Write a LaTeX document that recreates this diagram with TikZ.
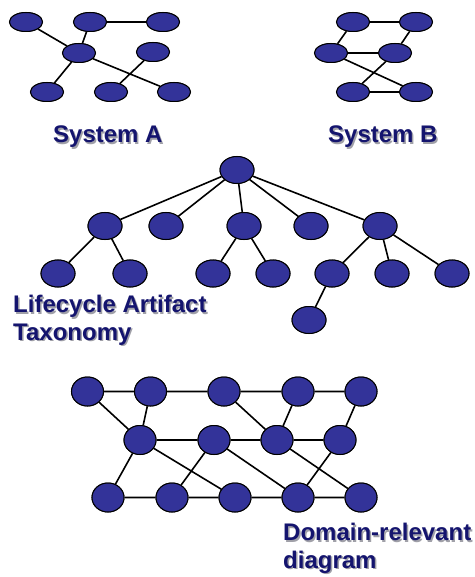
\documentclass[tikz,border=0pt]{standalone}
\usepackage{fontspec}
\setmainfont{Liberation Sans}
\usetikzlibrary{shapes.geometric}
\definecolor{nodeblue}{HTML}{333399}
\definecolor{labnavy}{HTML}{14146E}
\definecolor{shadowgray}{HTML}{A0A0A8}
\tikzset{
  sysnode/.style={ellipse,draw=black,line width=1pt,fill=nodeblue,minimum width=33pt,minimum height=19pt,inner sep=0pt},
  taxnode/.style={ellipse,draw=black,line width=1pt,fill=nodeblue,minimum width=34pt,minimum height=27pt,inner sep=0pt},
  domnode/.style={ellipse,draw=black,line width=1pt,fill=nodeblue,minimum width=32pt,minimum height=29pt,inner sep=0pt},
  edge/.style={draw=black,line width=1.6pt},
  lab/.style={font=\fontsize{24}{27.5}\selectfont\bfseries,text=labnavy,inner sep=0pt,anchor=base west,align=left},
  labshadow/.style={lab,text=shadowgray}
}
\begin{document}
\begin{tikzpicture}[x=1pt,y=-1pt]
\useasboundingbox (0,0) rectangle (474,577);
\fill[white] (0,0) rectangle (474,577);
% System A
\node[sysnode] (a1) at (26,22) {};
\node[sysnode] (a2) at (90,22) {};
\node[sysnode] (a3) at (163,22) {};
\node[sysnode] (a4) at (79,53) {};
\node[sysnode] (a5) at (153,52) {};
\node[sysnode] (a6) at (47,92) {};
\node[sysnode] (a7) at (111,92) {};
\node[sysnode] (a8) at (174,92) {};
% System B
\node[sysnode] (b1) at (353,22) {};
\node[sysnode] (b2) at (416,22) {};
\node[sysnode] (b3) at (331,53) {};
\node[sysnode] (b4) at (395,53) {};
\node[sysnode] (b5) at (353,92) {};
\node[sysnode] (b6) at (416,92) {};
% Taxonomy
\node[taxnode] (t0) at (237,170) {};
\node[taxnode] (t1) at (105,226) {};
\node[taxnode] (t2) at (166,226) {};
\node[taxnode] (t3) at (244,226) {};
\node[taxnode] (t4) at (311,226) {};
\node[taxnode] (t5) at (380,226) {};
\node[taxnode] (t6) at (58,273.5) {};
\node[taxnode] (t7) at (130,273.5) {};
\node[taxnode] (t8) at (213,273.5) {};
\node[taxnode] (t9) at (273,273.5) {};
\node[taxnode] (t10) at (332,273.5) {};
\node[taxnode] (t11) at (392,273.5) {};
\node[taxnode] (t12) at (452,273.5) {};
\node[taxnode] (t13) at (309,320) {};
% Domain diagram
\node[domnode] (d1) at (87.5,391.5) {};
\node[domnode] (d2) at (150.5,391.5) {};
\node[domnode] (d3) at (224,391.5) {};
\node[domnode] (d4) at (298,391.5) {};
\node[domnode] (d5) at (361,391.5) {};
\node[domnode] (d6) at (140,440) {};
\node[domnode] (d7) at (214,440) {};
\node[domnode] (d8) at (277,440) {};
\node[domnode] (d9) at (340,440) {};
\node[domnode] (d10) at (108,497.5) {};
\node[domnode] (d11) at (172,497.5) {};
\node[domnode] (d12) at (235,497.5) {};
\node[domnode] (d13) at (298,497.5) {};
\node[domnode] (d14) at (361,497.5) {};
% edges
\draw[edge] (a1)--(a4) (a2)--(a4) (a2)--(a3) (a4)--(a6) (a4)--(a8) (a5)--(a7);
\draw[edge] (b1)--(b2) (b1)--(b3) (b2)--(b4) (b3)--(b4) (b3)--(b6) (b4)--(b5) (b5)--(b6);
\draw[edge] (t0)--(t1) (t0)--(t2) (t0)--(t3) (t0)--(t4) (t0)--(t5)
  (t1)--(t6) (t1)--(t7) (t3)--(t8) (t3)--(t9) (t5)--(t10) (t5)--(t11) (t5)--(t12) (t10)--(t13);
\draw[edge] (d1)--(d2) (d2)--(d3) (d3)--(d4) (d4)--(d5)
  (d1)--(d6) (d2)--(d6) (d3)--(d8) (d4)--(d8) (d5)--(d9)
  (d6)--(d7) (d7)--(d8) (d8)--(d9)
  (d6)--(d10) (d6)--(d12) (d7)--(d11) (d7)--(d13) (d8)--(d14) (d9)--(d13)
  (d10)--(d11) (d11)--(d12) (d12)--(d13) (d13)--(d14);
% redraw nodes on top of edges
\foreach \n in {a1,a2,a3,a4,a5,a6,a7,a8,b1,b2,b3,b4,b5,b6}{\node[sysnode] at (\n) {};}
\foreach \n in {t0,t1,t2,t3,t4,t5,t6,t7,t8,t9,t10,t11,t12,t13}{\node[taxnode] at (\n) {};}
\foreach \n in {d1,d2,d3,d4,d5,d6,d7,d8,d9,d10,d11,d12,d13,d14}{\node[domnode] at (\n) {};}
% labels (with soft drop shadow as in the reference)
\node[labshadow] at (54.5,144.5) {System A};
\node[lab] (labA) at (53,143) {System A};
\node[labshadow] at (329.5,144.5) {System B};
\node[lab] (labB) at (328,143) {System B};
\node[labshadow] at (14.5,341.5) {Lifecycle Artifact\\Taxonomy};
\node[lab] (labT) at (13,340) {Lifecycle Artifact\\Taxonomy};
\node[labshadow] at (284.5,569.5) {Domain-relevant\\diagram};
\node[lab] (labD) at (283,568) {Domain-relevant\\diagram};
\end{tikzpicture}
\end{document}
